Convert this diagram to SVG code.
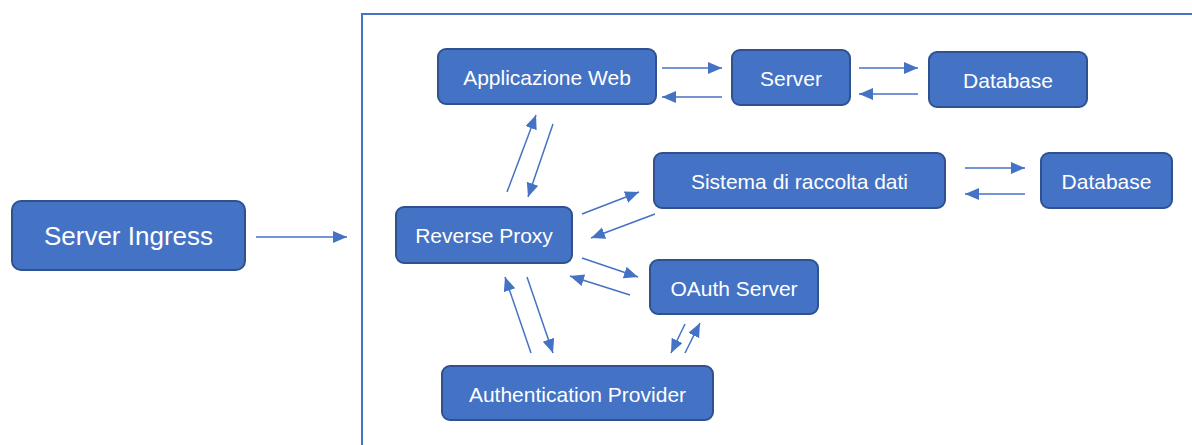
<svg xmlns="http://www.w3.org/2000/svg" width="1192" height="445" viewBox="0 0 1192 445">
  <style>
    .box { fill: #4472c4; stroke: #2f528f; stroke-width: 2; }
    .lbl { fill: #ffffff; font-family: "Liberation Sans", Arial, sans-serif; font-size: 21px; text-anchor: middle; dominant-baseline: central; }
    .big { font-size: 26px; }
    .link { stroke: #4472c4; stroke-width: 1.5; fill: none; marker-end: url(#arrow); }
    .frame { stroke: #4472c4; stroke-width: 2; fill: none; }
  </style>
  <defs>
    <marker id="arrow" markerUnits="userSpaceOnUse" markerWidth="15" markerHeight="13" refX="14" refY="6" orient="auto">
      <path d="M0,0 L14,6 L0,12 z" fill="#4472c4"/>
    </marker>
  </defs>
  <rect width="1192" height="445" fill="#ffffff"/>

  <!-- cluster boundary -->
  <path class="frame" d="M362,445 V14 H1192"/>

  <g id="server-ingress">
    <rect class="box" x="12" y="201" width="233" height="69" rx="9"/>
    <text class="lbl big" x="128.5" y="235.5">Server Ingress</text>
  </g>
  <g id="applicazione-web">
    <rect class="box" x="438" y="49" width="218" height="55" rx="8"/>
    <text class="lbl" x="547" y="77">Applicazione Web</text>
  </g>
  <g id="server">
    <rect class="box" x="732" y="50" width="118" height="55" rx="8"/>
    <text class="lbl" x="791" y="78">Server</text>
  </g>
  <g id="database-1">
    <rect class="box" x="929" y="52" width="158" height="55" rx="8"/>
    <text class="lbl" x="1008" y="80">Database</text>
  </g>
  <g id="reverse-proxy">
    <rect class="box" x="396" y="207" width="176" height="56" rx="8"/>
    <text class="lbl" x="484" y="235.5">Reverse Proxy</text>
  </g>
  <g id="sistema-raccolta">
    <rect class="box" x="654" y="153" width="291" height="55" rx="8"/>
    <text class="lbl" x="799.5" y="181">Sistema di raccolta dati</text>
  </g>
  <g id="database-2">
    <rect class="box" x="1041" y="153" width="131" height="55" rx="8"/>
    <text class="lbl" x="1106.5" y="181">Database</text>
  </g>
  <g id="oauth-server">
    <rect class="box" x="650" y="260" width="168" height="54" rx="8"/>
    <text class="lbl" x="734" y="288">OAuth Server</text>
  </g>
  <g id="authentication-provider">
    <rect class="box" x="442" y="366" width="271" height="54" rx="8"/>
    <text class="lbl" x="577.5" y="394">Authentication Provider</text>
  </g>

  <g id="connectors">
    <line class="link" x1="256" y1="237" x2="347" y2="237"/>
    <line class="link" x1="662" y1="68" x2="722" y2="68"/>
    <line class="link" x1="722" y1="97" x2="662" y2="97"/>
    <line class="link" x1="859" y1="68" x2="918" y2="68"/>
    <line class="link" x1="918" y1="94" x2="859" y2="94"/>
    <line class="link" x1="965" y1="168" x2="1025" y2="168"/>
    <line class="link" x1="1025" y1="194" x2="965" y2="194"/>
    <line class="link" x1="507" y1="192" x2="536" y2="115"/>
    <line class="link" x1="553" y1="124" x2="528" y2="197"/>
    <line class="link" x1="582" y1="214" x2="639" y2="192"/>
    <line class="link" x1="655" y1="214" x2="591" y2="238"/>
    <line class="link" x1="582" y1="258" x2="638" y2="277"/>
    <line class="link" x1="630" y1="295" x2="570" y2="276"/>
    <line class="link" x1="531" y1="353" x2="505" y2="277"/>
    <line class="link" x1="527" y1="277" x2="553" y2="353"/>
    <line class="link" x1="685" y1="324" x2="671" y2="353"/>
    <line class="link" x1="685" y1="353" x2="700" y2="323"/>
  </g>
</svg>
